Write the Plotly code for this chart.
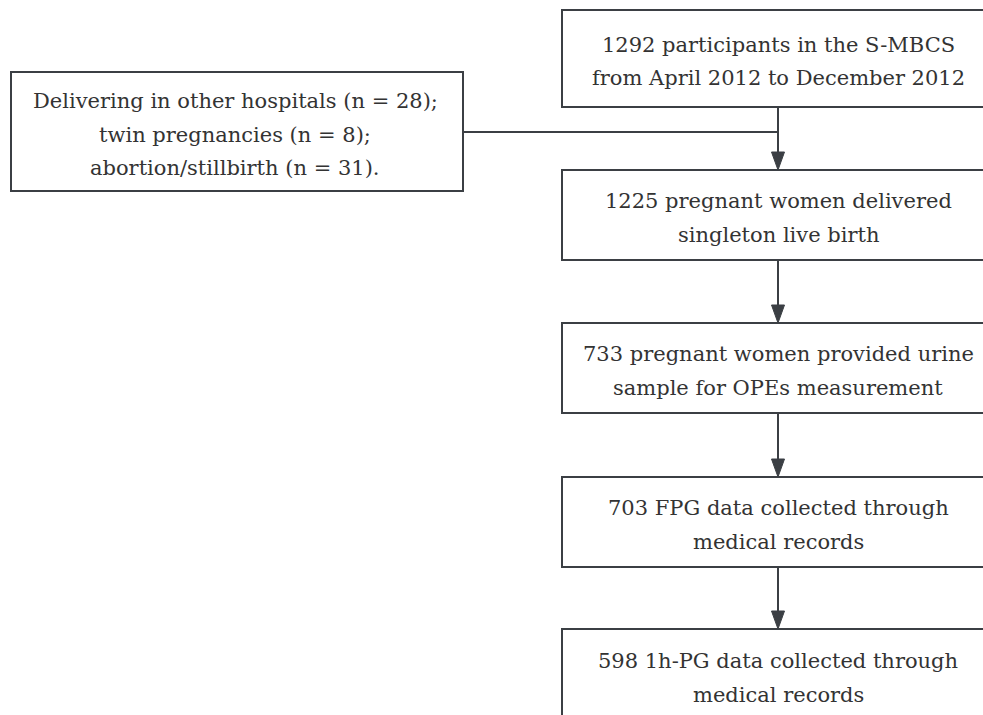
import plotly.graph_objects as go

# Flowchart content
main_steps = [
    "1292 participants in the S-MBCS<br>from April 2012 to December 2012",
    "1225 pregnant women delivered<br>singleton live birth",
    "733 pregnant women provided urine<br>sample for OPEs measurement",
    "703 FPG data collected through<br>medical records",
    "598 1h-PG data collected through<br>medical records",
]
exclusion_text = "Delivering in other hospitals (n = 28);<br>twin pregnancies (n = 8);<br>abortion/stillbirth (n = 31)."

# Layout (pixel coordinates, y downwards)
main_x0, main_x1 = 562, 995
main_tops = [10, 170, 323, 477, 629]
main_bottoms = [107, 260, 413, 567, 721]
arrow_x = 778
excl_box = (11, 72, 463, 191)
join_y = 132
LINE_GAP = 33.5
TEXT_SHIFT = 3

LINE = "#3b3f44"
TEXT = "#333333"
FONT = dict(family="DejaVu Serif", size=21, color=TEXT)

fig = go.Figure()
shapes = []
annotations = []


def add_text(text, xc, yc):
    lines = text.split("<br>")
    n = len(lines)
    for i, ln in enumerate(lines):
        y = yc + TEXT_SHIFT + (i - (n - 1) / 2) * LINE_GAP
        annotations.append(dict(x=xc, y=y, xref="x", yref="y", text=ln, showarrow=False,
                                font=FONT, xanchor="center", yanchor="middle"))


for txt, t, b in zip(main_steps, main_tops, main_bottoms):
    shapes.append(dict(type="rect", xref="x", yref="y", x0=main_x0, x1=main_x1, y0=t, y1=b,
                       line=dict(color=LINE, width=2), fillcolor="white", layer="below"))
    add_text(txt, arrow_x, (t + b) / 2)


def arrow(y_from, y_to):
    shapes.append(dict(type="line", xref="x", yref="y", x0=arrow_x, x1=arrow_x, y0=y_from, y1=y_to - 16,
                       line=dict(color=LINE, width=2)))
    shapes.append(dict(type="path", xref="x", yref="y",
                       path=f"M {arrow_x-6.5},{y_to-18} L {arrow_x+6.5},{y_to-18} L {arrow_x},{y_to} Z",
                       fillcolor=LINE, line=dict(color=LINE, width=1)))


for i in range(len(main_steps) - 1):
    arrow(main_bottoms[i], main_tops[i + 1])

# exclusion box and connector
x0, y0, x1, y1 = excl_box
shapes.append(dict(type="rect", xref="x", yref="y", x0=x0, x1=x1, y0=y0, y1=y1,
                   line=dict(color=LINE, width=2), fillcolor="white", layer="below"))
shapes.append(dict(type="line", xref="x", yref="y", x0=x1, x1=arrow_x, y0=join_y, y1=join_y,
                   line=dict(color=LINE, width=2)))
add_text(exclusion_text, (x0 + x1) / 2 - 2, (y0 + y1) / 2)

fig.update_layout(
    width=983, height=715,
    margin=dict(l=0, r=0, t=0, b=0),
    paper_bgcolor="white", plot_bgcolor="white",
    xaxis=dict(range=[0, 983], visible=False, fixedrange=True),
    yaxis=dict(range=[715, 0], visible=False, fixedrange=True),
    shapes=shapes, annotations=annotations, showlegend=False,
)

fig.write_html("out.html", config={"displayModeBar": False},
               post_script="document.body.style.margin='0';document.body.style.overflow='hidden';")
